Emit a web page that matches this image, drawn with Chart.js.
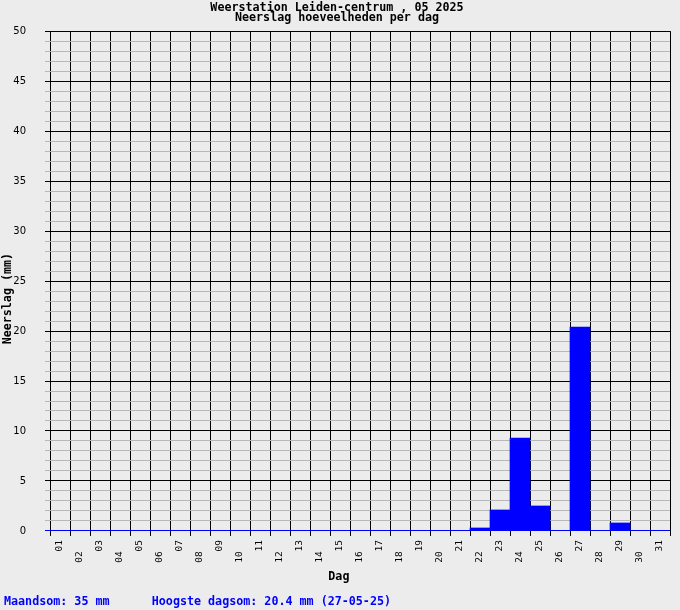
<!DOCTYPE html>
<html>
<head>
<meta charset="utf-8">
<script src="https://cdn.jsdelivr.net/npm/chart.js@4/dist/chart.umd.min.js"></script>
<style>
html, body { margin: 0; padding: 0; background: #ececec; }
</style>
</head>
<body>
<canvas id="rainChart" width="680" height="610"></canvas>
<script>
// data
var days = ['01', '02', '03', '04', '05', '06', '07', '08', '09', '10',
            '11', '12', '13', '14', '15', '16', '17', '18', '19', '20',
            '21', '22', '23', '24', '25', '26', '27', '28', '29', '30', '31'];
var rain = [0, 0, 0, 0, 0, 0, 0, 0, 0, 0,
            0, 0, 0, 0, 0, 0, 0, 0, 0, 0,
            0, 0.3, 2.1, 9.3, 2.5, 0, 20.4, 0, 0.8, 0, 0];
var titleLines = ['Weerstation Leiden-centrum , 05 2025', 'Neerslag hoeveelheden per dag'];
var footText = 'Maandsom: 35 mm      Hoogste dagsom: 20.4 mm (27-05-25)';

var mono = 'DejaVu Sans Mono';

function yLineColor(c) {
    var v = c.tick.value;
    if (v === 0) return '#0000ff';
    if (v % 5 === 0) return '#000000';
    return '#b8b8b8';
}

var ctx = document.getElementById('rainChart').getContext('2d');

var rainChart = new Chart(ctx, {
    type: 'bar',
    data: {
        labels: days,
        datasets: [{
            label: 'Neerslag',
            data: rain,
            backgroundColor: '#0000ff',
            borderWidth: 0,
            barPercentage: 1,
            categoryPercentage: 1
        }]
    },
    options: {
        responsive: false,
        animation: false,
        layout: { padding: { left: 4, right: 10, top: 0, bottom: 0 } },
        plugins: {
            legend: { display: false },
            tooltip: { enabled: false },
            title: {
                display: true,
                text: titleLines,
                color: '#000',
                font: { family: mono, size: 11.7, weight: 'bold', lineHeight: 0.86 },
                padding: { top: 3, bottom: 8 }
            },
            subtitle: {
                display: true,
                position: 'bottom',
                align: 'start',
                text: footText,
                color: '#0000ff',
                font: { family: mono, size: 11.7, weight: 'bold', lineHeight: 1.2 },
                padding: { top: 4, bottom: 1 }
            }
        },
        scales: {
            x: {
                offset: true,
                grid: { offset: true, color: '#000', tickColor: '#000', tickLength: 5, lineWidth: 1 },
                border: { display: false },
                ticks: {
                    color: '#000',
                    font: { family: mono, size: 9.5 },
                    minRotation: 90,
                    maxRotation: 90,
                    autoSkip: false,
                    padding: 4,
                    callback: function (v, i) {
                        return i % 2 === 1 ? days[i] + '  ' : days[i];
                    }
                },
                title: {
                    display: true,
                    text: 'Dag      ',
                    color: '#000',
                    font: { family: mono, size: 11.7, weight: 'bold', lineHeight: 1.2 },
                    padding: { top: 0, bottom: 7 }
                },
                afterFit: function (s) { s.height = 60; }
            },
            y: {
                min: 0,
                max: 50,
                ticks: {
                    stepSize: 1,
                    maxTicksLimit: 60,
                    autoSkip: false,
                    color: '#000',
                    font: { family: 'DejaVu Sans', size: 10 },
                    padding: 19,
                    callback: function (v) { return v % 5 === 0 ? v : ''; }
                },
                grid: { color: yLineColor, tickColor: yLineColor, tickLength: 5, lineWidth: 1 },
                border: { display: false },
                title: {
                    display: true,
                    text: 'Neerslag (mm)     ',
                    color: '#000',
                    font: { family: mono, size: 11.7, weight: 'bold', lineHeight: 0.6 },
                    padding: 0
                },
                afterFit: function (s) { s.width = 46; }
            }
        }
    }
});
</script>
</body>
</html>
